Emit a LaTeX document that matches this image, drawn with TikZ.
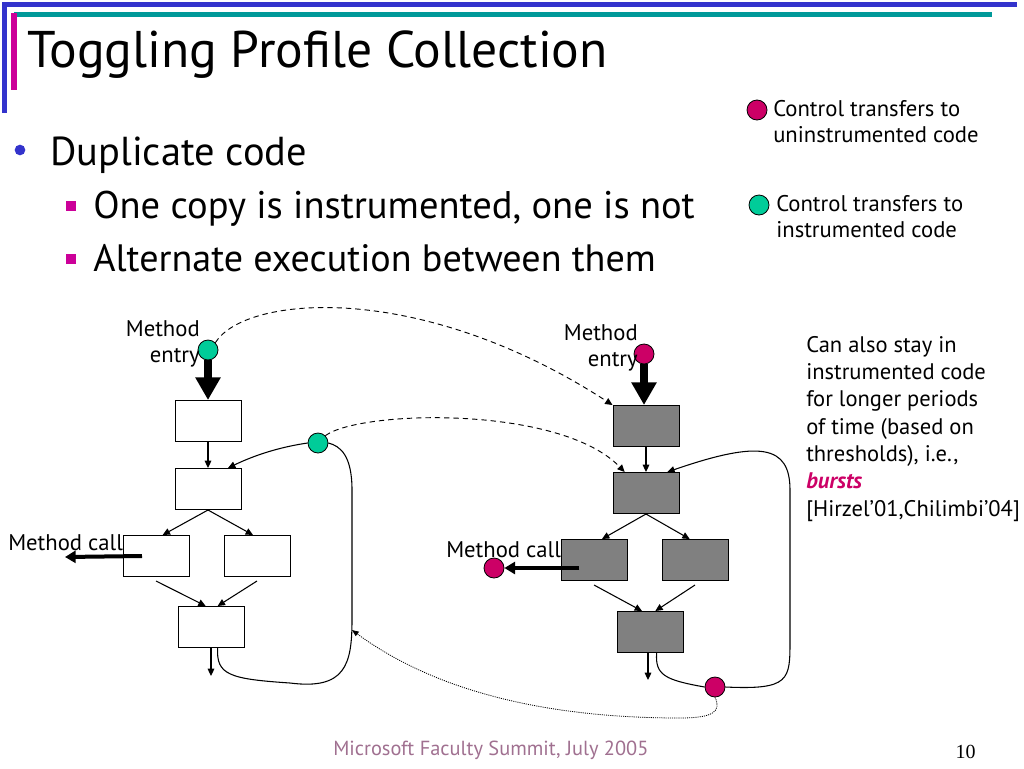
\documentclass[tikz,border=0pt]{standalone}
\usepackage{fontspec}
\setmainfont{PT Sans}
\newfontfamily\numfont{Liberation Serif}
\usetikzlibrary{arrows.meta}
\definecolor{slideblue}{RGB}{51,51,204}
\definecolor{slideteal}{RGB}{0,153,153}
\definecolor{slidemag}{RGB}{204,0,153}
\definecolor{instgreen}{RGB}{0,204,153}
\definecolor{uninstred}{RGB}{204,0,102}
\definecolor{footgray}{RGB}{160,112,144}
\begin{document}
\begin{tikzpicture}[x=0.75pt,y=-0.75pt,
    cbox/.style={draw, line width=0.75pt, minimum width=49.5pt, minimum height=30.75pt, inner sep=0pt},
    ibox/.style={cbox, fill=white},
    ubox/.style={cbox, fill=gray},
    gdot/.style={circle, draw, line width=0.6pt, fill=instgreen, minimum size=15pt, inner sep=0pt},
    rdot/.style={circle, draw, line width=0.6pt, fill=uninstred, minimum size=15pt, inner sep=0pt},
    flow/.style={-{Triangle[width=5pt,length=5.5pt]}, line width=0.8pt},
    entryarrow/.style={-{Triangle[width=18pt,length=17pt]}, line width=6pt},
    callarrow/.style={-{Triangle[width=9pt,length=8pt]}, line width=3pt},
    jump/.style={-{Triangle[width=5pt,length=5.5pt]}, dash pattern=on 4pt off 3pt, line width=0.7pt},
    lbl/.style={font=\fontsize{17}{19.5}\selectfont, inner sep=0pt}]
  \useasboundingbox (0,0) rectangle (1024,768);
  % slide frame
  \fill[slideblue] (2,2) rectangle (1017,7);
  \fill[slideblue] (2,2) rectangle (7,113);
  \fill[slideteal] (14,12) rectangle (992,17);
  \fill[slidemag] (11,13) rectangle (17,90);
  \node[anchor=base west, inner sep=0pt, font=\fontsize{38.7}{40}\selectfont] (title) at (27,67) {Toggling Profile Collection};
  % bullets
  \node[circle, fill=slideblue, minimum size=8pt, inner sep=0pt] (dot1) at (20,150) {};
  \node[fill=slidemag, minimum size=7.5pt, inner sep=0pt] (sq1) at (71,206) {};
  \node[fill=slidemag, minimum size=7.5pt, inner sep=0pt] (sq2) at (71,259) {};
  \node[anchor=base west, inner sep=0pt, font=\fontsize{30.3}{33}\selectfont] (dup) at (50,165) {Duplicate code};
  \node[anchor=base west, inner sep=0pt, font=\fontsize{28.9}{30}\selectfont] (copy) at (93,218) {One copy is instrumented, one is not};
  \node[anchor=base west, inner sep=0pt, font=\fontsize{28.6}{30}\selectfont] (alt) at (93,271) {Alternate execution between them};
  % legend
  \node[rdot] (key1) at (757,110) {};
  \node[anchor=north west, align=left, inner sep=0pt, font=\fontsize{17}{19.5}\selectfont] (key1txt) at (773,100) {Control transfers to\\uninstrumented code};
  \node[gdot] (key2) at (759,205) {};
  \node[anchor=north west, align=left, inner sep=0pt, font=\fontsize{17}{19.5}\selectfont] (key2txt) at (776,195) {Control transfers to\\instrumented code};
  \node[anchor=north west, align=left, inner sep=0pt, font=\fontsize{16.9}{20.5}\selectfont] (note) at (806,336) {Can also stay in\\instrumented code\\for longer periods\\of time (based on\\thresholds), i.e.,\\{\color{uninstred}\bfseries\itshape bursts}\\{[}Hirzel'01,Chilimbi'04{]}};
  % instrumented copy
  \node[ibox] (a1) at (208,421) {};
  \node[ibox] (a2) at (208,489) {};
  \node[ibox] (a3) at (156,556) {};
  \node[ibox] (a4) at (257,556) {};
  \node[ibox] (a5) at (211,627) {};
  \node[gdot] (gin) at (208,350) {};
  \node[gdot] (gback) at (318,443) {};
  \node[lbl, anchor=north east, align=right] (aentry) at (200,320) {Method\\entry};
  \node[lbl, anchor=base west] (acall) at (8,550) {Method call};
  \coordinate (acallend) at (65,557);
  \coordinate (aout) at (211,676);
  \coordinate (hit) at (352,630);
  \draw[entryarrow] (gin.south) -- (a1.north);
  \draw[flow] (a1.south) -- (a2.north);
  \draw[flow] (a2.south) -- ([xshift=5pt]a3.north);
  \draw[flow] (a2.south) -- ([xshift=-3pt]a4.north);
  \draw[flow] ([yshift=-3pt]a3.south) -- ([xshift=-4pt]a5.north);
  \draw[flow] ([yshift=-3pt]a4.south) -- ([xshift=5pt]a5.north);
  \draw[flow] (a5.south) -- (aout);
  \draw[callarrow] ([xshift=-10.5pt]a3.center) -- (acallend);
  \draw[line width=0.8pt] ([xshift=5pt]a5.south) .. controls (216,675) and (230,679) .. (290,683) .. controls (345,690) and (352,665) .. (352,620) -- (352,490) .. controls (352,455) and (340,446) .. (gback.east);
  \draw[flow] (gback.west) .. controls (280,447) and (255,455) .. ([xshift=15pt]a2.north);
  % uninstrumented copy
  \node[ubox] (b1) at (646,426) {};
  \node[ubox] (b2) at (646,493) {};
  \node[ubox] (b3) at (594,560) {};
  \node[ubox] (b4) at (695,560) {};
  \node[ubox] (b5) at (650,632) {};
  \node[rdot] (rin) at (644,354) {};
  \node[rdot] (rback) at (715,687) {};
  \node[rdot] (rcall) at (494,568) {};
  \node[lbl, anchor=north east, align=right] (bentry) at (638,324) {Method\\entry};
  \node[lbl, anchor=base west] (bcall) at (446,557) {Method call};
  \coordinate (bout) at (648,680);
  \draw[entryarrow] (rin.south) -- (rin.south |- b1.north);
  \draw[flow] (b1.south) -- (b2.north);
  \draw[flow] (b2.south) -- ([xshift=6pt]b3.north);
  \draw[flow] (b2.south) -- ([xshift=-4pt]b4.north);
  \draw[flow] ([yshift=-3pt]b3.south) -- ([xshift=-6pt]b5.north);
  \draw[flow] ([yshift=-3pt]b4.south) -- ([xshift=4pt]b5.north);
  \draw[flow] (b5.south -| bout) -- (bout);
  \draw[callarrow] ([xshift=-11pt,yshift=-6pt]b3.center) -- (rcall.east);
  \draw[line width=0.8pt] ([xshift=5pt]b5.south) .. controls (655,675) and (665,680) .. (rback.west);
  \draw[flow] (rback.east) .. controls (790,690) and (790,680) .. (790,640) -- (790,490) .. controls (790,445) and (760,440) .. ([xshift=16pt]b2.north);
  % switches between the copies
  \draw[jump] (gin.north east) .. controls (245,295) and (420,280) .. (b1.north west);
  \draw[jump] (gback.north east) .. controls (360,410) and (560,405) .. ([xshift=-16pt]b2.north);
  \draw[-{Triangle[width=4pt,length=5pt]}, line width=0.6pt, dash pattern=on 0.8pt off 0.8pt] (rback.south) .. controls (722,712) and (712,718) .. (680,718) .. controls (520,718) and (420,680) .. (hit);
  % footer
  \node[anchor=base west, inner sep=0pt, text=footgray, font=\fontsize{15.3}{15}\selectfont] (foot) at (333,755) {Microsoft Faculty Summit, July 2005};
  \node[anchor=base east, inner sep=0pt, font=\numfont\fontsize{15}{15}\selectfont] (page) at (976,758) {10};
\end{tikzpicture}
\end{document}
